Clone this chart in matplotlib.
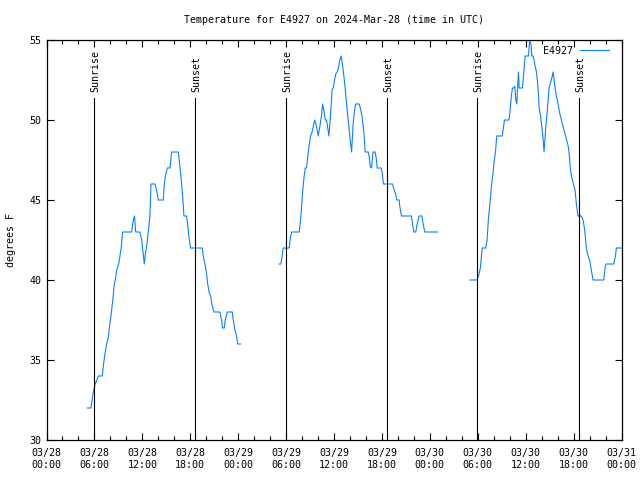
import matplotlib
matplotlib.use('Agg')
import matplotlib.pyplot as plt

# hours since 2024-03-28 00:00 UTC
day1_hours = [5.11, 5.57, 5.86, 6.1, 6.49, 6.99, 7.11, 7.32, 7.53, 7.74, 7.86, 8.03, 8.2, 8.36,
              8.45, 8.61, 8.78, 9.03, 9.2, 9.37, 9.53, 10.66, 10.87, 11.03, 11.16, 11.7, 11.91,
              12.12, 12.24, 12.37, 12.54, 12.74, 12.95, 13.08, 13.58, 13.79, 14.0, 14.62, 14.75,
              14.92, 15.12, 15.46, 15.67, 16.5, 16.62, 16.79, 16.92, 17.04, 17.21, 17.54, 17.67,
              17.83, 18.04, 19.5, 19.63, 19.84, 20.05, 20.17, 20.38, 20.55, 20.71, 20.96, 21.71,
              21.92, 22.05, 22.26, 22.38, 22.63, 23.26, 23.38, 23.59, 23.8, 23.93, 24.3]
day1_temps = [32, 32, 33, 33.5, 34, 34, 34.6, 35.4, 36, 36.4, 37, 37.6, 38.3, 39,
              39.6, 40, 40.6, 41, 41.5, 42.1, 43, 43, 43.75, 44, 43, 43, 42.5,
              41.6, 41, 41.6, 42.1, 43, 44, 46, 46, 45.6, 45, 45, 46,
              46.6, 47, 47, 48, 48, 47.5, 46.7, 46, 45.3, 44, 44, 43.5,
              42.7, 42, 42, 41.5, 41, 40.4, 39.8, 39.2, 39, 38.5, 38, 38,
              37.5, 37, 37, 37.5, 38, 38, 37.5, 36.9, 36.5, 36, 36]

day2_hours = [29.1, 29.35, 29.51, 29.64, 30.39, 30.56, 30.69, 31.64, 31.81, 31.94, 32.07, 32.23,
              32.4, 32.57, 32.69, 32.85, 33.06, 33.23, 33.4, 33.6, 33.81, 34.02, 34.23, 34.44,
              34.57, 34.73, 34.9, 35.07, 35.19, 35.36, 35.48, 35.77, 35.9, 36.07, 36.23, 36.4,
              36.57, 36.73, 36.9, 37.02, 37.15, 37.27, 37.45, 37.65, 37.78, 37.9, 37.99, 38.11,
              38.2, 38.28, 38.4, 38.53, 38.7, 39.15, 39.32, 39.49, 39.65, 39.78, 39.9, 40.28,
              40.41, 40.53, 40.69, 40.9, 41.15, 41.32, 41.41, 41.9, 42.03, 42.2, 43.33, 43.49,
              43.7, 43.87, 44.16, 44.24, 44.45, 45.7, 45.83, 46.0, 46.24, 46.41, 46.66, 47.0,
              47.16, 47.37, 48.96]
day2_temps = [41, 41, 41.5, 42, 42, 42.7, 43, 43, 43.75, 44.6, 45.5, 46.35,
              47, 47, 47.6, 48.3, 49, 49.2, 49.6, 50, 49.6, 49, 49.6, 50.3,
              51, 50.6, 50, 50, 49.6, 49, 49.7, 51.9, 52, 52.5, 52.9, 53,
              53.3, 53.75, 54, 53.6, 53.1, 52.6, 51.7, 50.6, 50, 49.4, 48.9, 48.4,
              48, 48.7, 49.8, 50.4, 51, 51, 50.7, 50.3, 49.6, 49, 48, 48,
              47.7, 47.1, 47, 48, 48, 47.5, 47, 47, 46.7, 46, 46, 45.7,
              45.4, 45, 45, 44.6, 44, 44, 43.5, 43, 43, 43.5, 44, 44,
              43.5, 43, 43]

day3_hours = [53.0, 53.92, 54.13, 54.34, 54.55, 55.0, 55.17, 55.34, 55.51, 55.72, 55.92, 56.05,
              56.22, 56.38, 57.05, 57.18, 57.35, 57.92, 58.05, 58.22, 58.35, 58.51, 58.64, 58.76,
              58.89, 59.01, 59.1, 59.18, 59.35, 59.6, 59.76, 59.93, 60.35, 60.5, 60.68, 60.76,
              60.93, 61.14, 61.35, 61.48, 61.6, 61.68, 61.85, 62.02, 62.18, 62.3, 62.39, 62.52,
              62.68, 62.8, 62.93, 63.1, 63.31, 63.43, 63.56, 63.68, 63.85, 64.06, 64.27, 64.48,
              64.68, 64.89, 65.1, 65.31, 65.43, 65.6, 65.77, 65.98, 66.19, 66.35, 66.56, 66.98,
              67.19, 67.4, 67.6, 67.81, 68.02, 68.23, 68.44, 69.77, 69.98, 70.11, 71.03, 71.24,
              71.36, 72.0]
day3_temps = [40, 40, 40.3, 40.8, 42, 42, 42.5, 43.85, 44.7, 45.9, 46.7, 47.4,
              48, 49, 49, 49.4, 50, 50, 50.6, 51.56, 52, 52, 52.1, 51.3,
              51, 52.2, 53, 52, 52, 52, 53, 54, 54, 55, 54.7, 54,
              54, 53.5, 53, 52.4, 51.6, 50.8, 50.3, 49.6, 48.85, 48, 48.6, 49.6,
              50.4, 51.2, 52, 52.3, 52.7, 53, 52.5, 52, 51.5, 51, 50.4, 50,
              49.6, 49.2, 48.8, 48.4, 48, 46.9, 46.4, 46, 45.6, 44.75, 44, 44,
              43.75, 43.1, 42, 41.5, 41.2, 40.6, 40, 40, 40.9, 41, 41, 41.5,
              42, 42]

sunrise_hours = [5.98, 30.01, 53.92]
sunset_hours = [18.62, 42.65, 66.68]

tick_hours = list(range(0, 73, 6))
tick_labels = ['03/28\n00:00', '03/28\n06:00', '03/28\n12:00', '03/28\n18:00',
               '03/29\n00:00', '03/29\n06:00', '03/29\n12:00', '03/29\n18:00',
               '03/30\n00:00', '03/30\n06:00', '03/30\n12:00', '03/30\n18:00',
               '03/31\n00:00']

plt.rcParams['font.family'] = 'DejaVu Sans Mono'
plt.rcParams['font.size'] = 7.2

fig = plt.figure(figsize=(6.4, 4.8), dpi=100)
ax = fig.add_axes([46.5/640, 40/480, 575/640, 400/480])

line_color = '#0a80ff'
ax.plot(day1_hours, day1_temps, color=line_color, lw=0.8, label='E4927')
ax.plot(day2_hours, day2_temps, color=line_color, lw=0.8)
ax.plot(day3_hours, day3_temps, color=line_color, lw=0.8)

for h in sunrise_hours:
    ax.plot([h, h], [30, 51.4], color='black', lw=0.8)
    ax.text(h + 0.15, 51.75, 'Sunrise', rotation=90, ha='center', va='bottom')
for h in sunset_hours:
    ax.plot([h, h], [30, 51.4], color='black', lw=0.8)
    ax.text(h + 0.15, 51.75, 'Sunset', rotation=90, ha='center', va='bottom')

ax.set_xlim(0, 72)
ax.set_ylim(30, 55)
ax.set_xticks(tick_hours)
ax.set_xticklabels(tick_labels)
ax.set_xticks(range(0, 73, 2), minor=True)
ax.set_yticks(range(30, 56, 5))
ax.tick_params(direction='in', top=True, right=True, length=5, width=0.8)
ax.tick_params(which='minor', direction='in', top=True, bottom=True, length=3, width=0.8)
ax.tick_params(axis='x', pad=6)
for sp in ax.spines.values():
    sp.set_linewidth(0.9)

ax.set_ylabel('degrees F', labelpad=10)
ax.set_title('Temperature for E4927 on 2024-Mar-28 (time in UTC)', fontsize=7.2, pad=12)

leg = ax.legend(loc='upper right', frameon=False, handlelength=2.9, handletextpad=0.7,
                borderaxespad=0.0, bbox_to_anchor=(0.985, 0.995), markerfirst=False)

fig.savefig('out.png', dpi=100)
